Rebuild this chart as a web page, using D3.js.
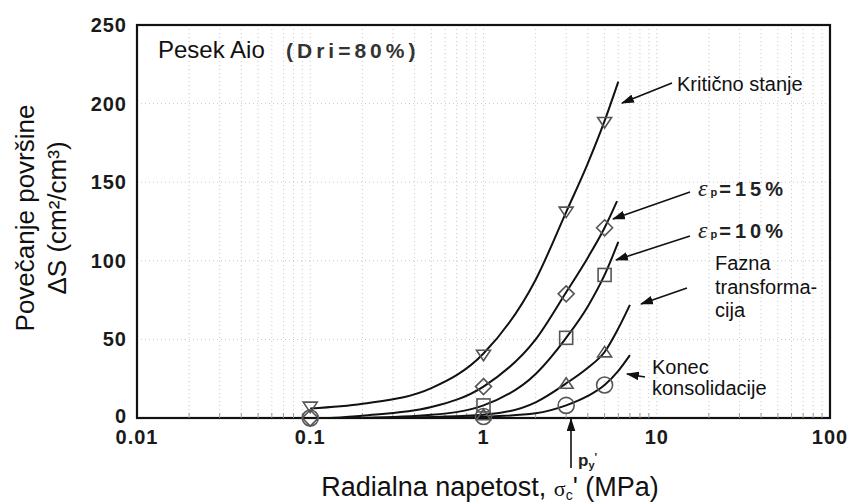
<!DOCTYPE html>
<html><head><meta charset="utf-8">
<script src="https://cdn.jsdelivr.net/npm/d3@7"></script>
<style>body{margin:0;background:#fff}svg{display:block}</style>
</head><body>
<svg id="c" width="849" height="504"></svg>
<script>
// ---- data ----
const xTicks = [0.01, 0.1, 1, 10, 100];
const xTickLabels = ["0.01", "0.1", "1", "10", "100"];
const yTicks = [0, 50, 100, 150, 200, 250];

// curve points [stress MPa, ΔS]
const critCurve  = [[0.1,6],[0.2,9],[0.5,19],[1,41],[2,88],[3,131],[4,162],[5,189],[6,214]];
const eps15Curve = [[0.13,0],[0.2,1.5],[0.5,7],[1,20],[2,50],[3,80],[4,102],[5,121],[5.9,138]];
const eps10Curve = [[0.2,0],[0.5,2],[1,8],[2,28],[3,51],[4,71],[5,91],[6,112]];
const faznaCurve = [[0.3,0],[1,2],[2,10],[3,22],[4,32],[5,42],[6,57],[7,72]];
const konecCurve = [[0.4,0],[1,0.8],[2,3],[3,8],[4,14],[5,21],[6,30],[7,40]];

// measured points
const critPts  = [[0.1,7],[1,40],[3,131],[5,188]];
const eps15Pts = [[0.1,0],[1,20],[3,79],[5,121]];
const eps10Pts = [[1,8],[3,51],[5,91]];
const faznaPts = [[1,2],[3,22],[5,42]];
const konecPts = [[0.1,0],[1,1],[3,8],[5,21]];

// ---- layout ----
const svg = d3.select("#c");
const L = 137, R = 830, T = 25, B = 418;
const x = d3.scaleLog().domain([0.01, 100]).range([L, R]);
const y = d3.scaleLinear().domain([0, 250]).range([B, T]);

// grid (faint dotted)
const minor = [];
for (let e = -2; e < 2; e++) for (let k = 2; k <= 9; k++) minor.push(k * Math.pow(10, e));
const grid = svg.append("g").attr("stroke", "#c9c9c9").attr("stroke-width", 1).attr("stroke-dasharray", "1,3");
grid.selectAll(".vx").data(minor.concat([0.1, 1, 10])).join("line")
  .attr("x1", d => x(d)).attr("x2", d => x(d)).attr("y1", T).attr("y2", B);
grid.selectAll(".hy").data(yTicks.slice(1, 5)).join("line")
  .attr("x1", L).attr("x2", R).attr("y1", d => y(d)).attr("y2", d => y(d));

// frame
svg.append("rect").attr("x", L).attr("y", T).attr("width", R - L).attr("height", B - T)
  .attr("fill", "none").attr("stroke", "#111").attr("stroke-width", 2.2);

// minor ticks inside bottom
svg.append("g").selectAll("line").data(minor).join("line")
  .attr("x1", d => x(d)).attr("x2", d => x(d)).attr("y1", B).attr("y2", B - 5)
  .attr("stroke", "#999").attr("stroke-width", 1);

// tick labels
const tickFont = "'Liberation Sans', Arial, sans-serif";
svg.append("g").selectAll("text").data(yTicks).join("text")
  .attr("x", 127).attr("y", d => y(d) + (d === 0 ? 5 : 7)).attr("text-anchor", "end")
  .attr("font-family", tickFont).attr("font-weight", "bold").attr("font-size", 20)
  .attr("letter-spacing", 1).attr("fill", "#1a1a1a").text(d => d);
svg.append("g").selectAll("text").data(xTicks).join("text")
  .attr("x", d => x(d)).attr("y", 444).attr("text-anchor", "middle")
  .attr("font-family", tickFont).attr("font-weight", "bold").attr("font-size", 20)
  .attr("letter-spacing", 1).attr("fill", "#1a1a1a").text((d, i) => xTickLabels[i]);

// curves
const line = d3.line().x(d => x(d[0])).y(d => y(d[1])).curve(d3.curveMonotoneX);
const curves = [critCurve, eps15Curve, eps10Curve, faznaCurve, konecCurve];
svg.append("g").selectAll("path").data(curves).join("path")
  .attr("d", line).attr("fill", "none").attr("stroke", "#111").attr("stroke-width", 2);

// markers
const mk = svg.append("g").attr("fill", "none").attr("stroke", "#555").attr("stroke-width", 1.6);
const s = 7;
mk.selectAll(".inv").data(critPts).join("path")
  .attr("d", d => { const cx = x(d[0]), cy = y(d[1]); return `M${cx - s},${cy - s * 0.7}L${cx + s},${cy - s * 0.7}L${cx},${cy + s * 0.8}Z`; });
mk.selectAll(".dia").data(eps15Pts).join("path")
  .attr("d", d => { const cx = x(d[0]), cy = y(d[1]); return `M${cx},${cy - 8}L${cx + 8},${cy}L${cx},${cy + 8}L${cx - 8},${cy}Z`; });
mk.selectAll(".sq").data(eps10Pts).join("rect")
  .attr("x", d => x(d[0]) - 6.5).attr("y", d => y(d[1]) - 6.5).attr("width", 13).attr("height", 13);
mk.selectAll(".tri").data(faznaPts).join("path")
  .attr("d", d => { const cx = x(d[0]), cy = y(d[1]); return `M${cx - s},${cy + s * 0.7}L${cx + s},${cy + s * 0.7}L${cx},${cy - s * 0.8}Z`; });
mk.selectAll(".cir").data(konecPts).join("circle")
  .attr("cx", d => x(d[0])).attr("cy", d => y(d[1])).attr("r", 8);

// arrows
const defs = svg.append("defs");
defs.append("marker").attr("id", "ah").attr("viewBox", "0 0 12 8").attr("refX", 11).attr("refY", 4)
  .attr("markerWidth", 13).attr("markerHeight", 9).attr("markerUnits", "userSpaceOnUse").attr("orient", "auto")
  .append("path").attr("d", "M0,0L12,4L0,8Z").attr("fill", "#111");
const arrows = [
  [672, 83, 622, 103],
  [690, 192, 613, 219],
  [690, 236, 616, 260],
  [687, 288, 641, 304],
  [645, 377, 627, 374],
  [571, 468, 571, 419]
];
svg.append("g").selectAll("line").data(arrows).join("line")
  .attr("x1", d => d[0]).attr("y1", d => d[1]).attr("x2", d => d[2]).attr("y2", d => d[3])
  .attr("stroke", "#111").attr("stroke-width", 1.6).attr("marker-end", "url(#ah)");

// annotation texts
const af = "'Liberation Sans', Arial, sans-serif";
function txt(xx, yy, str, size, opts = {}) {
  const t = svg.append("text").attr("x", xx).attr("y", yy).attr("font-family", af)
    .attr("font-size", size).attr("fill", opts.fill || "#111").text(str);
  if (opts.bold) t.attr("font-weight", "bold");
  if (opts.ls) t.attr("letter-spacing", opts.ls);
  return t;
}
txt(158, 58, "Pesek Aio", 24);
txt(286, 58, "(Dri=80%)", 21, { bold: true, ls: 4, fill: "#333" });
txt(677, 91, "Kritično stanje", 20);
txt(715, 270, "Fazna", 20);
txt(715, 294, "transforma-", 20);
txt(715, 317, "cija", 20);
txt(652, 374, "Konec", 20);
txt(652, 395, "konsolidacije", 20);

function epsLabel(xx, yy, val) {
  const t = svg.append("text").attr("x", xx).attr("y", yy).attr("font-family", af).attr("fill", "#222");
  t.append("tspan").attr("font-family", "'Liberation Serif', serif").attr("font-style", "italic").attr("font-size", 24).text("ε");
  t.append("tspan").attr("font-size", 11).attr("font-weight", "bold").attr("dx", 3).text("p");
  t.append("tspan").attr("font-size", 20).attr("font-weight", "bold").attr("letter-spacing", 4).attr("dx", 2).text("=" + val + "%");
}
epsLabel(698, 196, 15);
epsLabel(698, 238, 10);

// p_y' label
const py = svg.append("text").attr("x", 578).attr("y", 466).attr("font-family", af).attr("font-weight", "bold").attr("fill", "#222");
py.append("tspan").attr("font-size", 17).text("p");
py.append("tspan").attr("font-size", 11).attr("dy", 3).text("y");
py.append("tspan").attr("font-size", 11).attr("dy", -8).text("'");

// axis titles
const xt = svg.append("text").attr("x", 490).attr("y", 496).attr("text-anchor", "middle")
  .attr("font-family", af).attr("font-size", 27).attr("fill", "#111");
xt.append("tspan").text("Radialna napetost, ");
xt.append("tspan").attr("font-family", "'Liberation Serif', serif").attr("font-size", 22).text("σ");
xt.append("tspan").attr("font-size", 14).attr("dy", 4).text("c");
xt.append("tspan").attr("dy", -4).text("' (MPa)");

const yt = svg.append("g").attr("transform", "translate(34,218) rotate(-90)");
yt.append("text").attr("x", 0).attr("y", 0).attr("text-anchor", "middle")
  .attr("font-family", af).attr("font-size", 26).attr("fill", "#111").text("Povečanje površine");
yt.append("text").attr("x", 0).attr("y", 32).attr("text-anchor", "middle")
  .attr("font-family", af).attr("font-size", 26).attr("fill", "#111").text("ΔS (cm²/cm³)");
</script>
</body></html>
